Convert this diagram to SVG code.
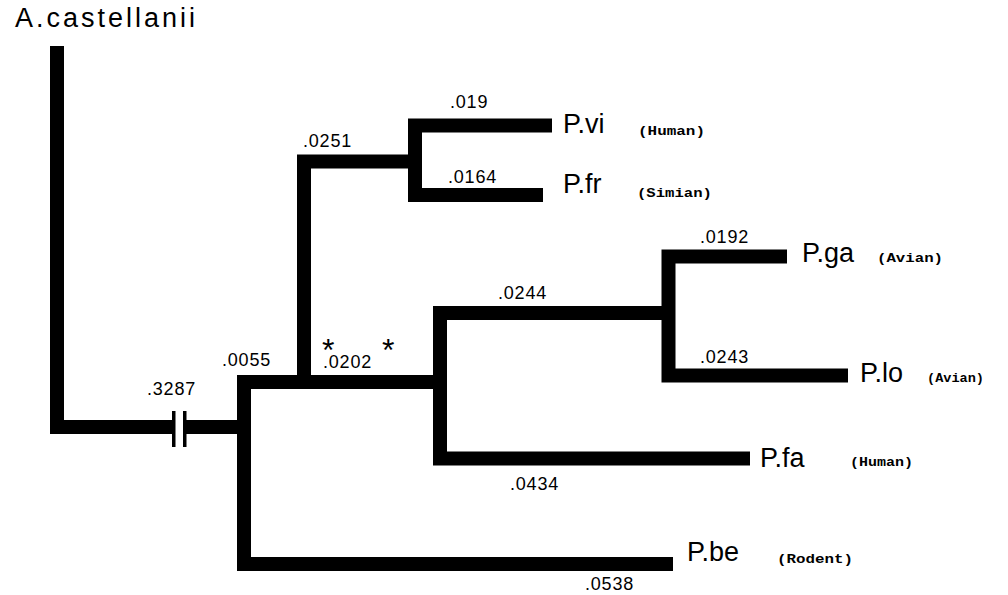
<svg xmlns="http://www.w3.org/2000/svg" width="1008" height="595" viewBox="0 0 1008 595">
<style>
.br{fill:none;stroke:#000;stroke-width:14;stroke-linejoin:miter;stroke-linecap:butt}
.num{font-family:"Liberation Sans",Arial,sans-serif;font-size:18px;fill:#000;letter-spacing:0.8px}
.tax{font-family:"Liberation Sans",Arial,sans-serif;font-size:27px;fill:#000}
.host{font-family:"Liberation Mono","Courier New",monospace;font-size:13px;font-weight:bold;fill:#000}
.star{font-family:"Liberation Sans",Arial,sans-serif;font-size:32px;fill:#000}
</style>
<rect width="1008" height="595" fill="#fff"/>
<g id="connectors">
<path class="br" d="M57,46 V427 H173"/>
<rect x="172" y="411" width="3.5" height="36" fill="#000"/>
<rect x="183" y="411" width="3.5" height="36" fill="#000"/>
<path class="br" d="M186,427 H245"/>
<path class="br" d="M440,382 H244 V564 H673"/>
<path class="br" d="M304,382 V161.5 H416"/>
<path class="br" d="M552,125.5 H415 V195 H543"/>
<path class="br" d="M669,313 H440 V458.5 H750"/>
<path class="br" d="M787,256.5 H668.5 V375.5 H848"/>
</g>
<g id="branch-labels">
<text class="num" x="147" y="395">.3287</text>
<text class="num" x="222" y="366">.0055</text>
<text class="num" x="303" y="147">.0251</text>
<text class="num" x="450" y="108">.019</text>
<text class="num" x="448" y="183">.0164</text>
<text class="num" x="323" y="368">.0202</text>
<text class="num" x="498" y="299">.0244</text>
<text class="num" x="700" y="243">.0192</text>
<text class="num" x="700" y="363">.0243</text>
<text class="num" x="510" y="490">.0434</text>
<text class="num" x="585" y="590">.0538</text>
<text class="star" x="322" y="361">*</text>
<text class="star" x="382" y="361">*</text>
</g>
<g id="node-acastellanii">
<text class="tax" x="15" y="27" font-size="26" textLength="180" lengthAdjust="spacing">A.castellanii</text>
</g>
<g id="node-pvi">
<text class="tax" x="563" y="133">P.vi</text>
<text class="host" x="638" y="135" textLength="67" lengthAdjust="spacingAndGlyphs">(Human)</text>
</g>
<g id="node-pfr">
<text class="tax" x="563" y="193">P.fr</text>
<text class="host" x="637" y="197" textLength="75" lengthAdjust="spacingAndGlyphs">(Simian)</text>
</g>
<g id="node-pga">
<text class="tax" x="802" y="262">P.ga</text>
<text class="host" x="877" y="262" textLength="66" lengthAdjust="spacingAndGlyphs">(Avian)</text>
</g>
<g id="node-plo">
<text class="tax" x="860" y="382">P.lo</text>
<text class="host" x="927" y="382" textLength="57" lengthAdjust="spacingAndGlyphs">(Avian)</text>
</g>
<g id="node-pfa">
<text class="tax" x="760" y="467">P.fa</text>
<text class="host" x="850" y="466" textLength="63" lengthAdjust="spacingAndGlyphs">(Human)</text>
</g>
<g id="node-pbe">
<text class="tax" x="687" y="561">P.be</text>
<text class="host" x="777" y="563" textLength="76" lengthAdjust="spacingAndGlyphs">(Rodent)</text>
</g>
</svg>
